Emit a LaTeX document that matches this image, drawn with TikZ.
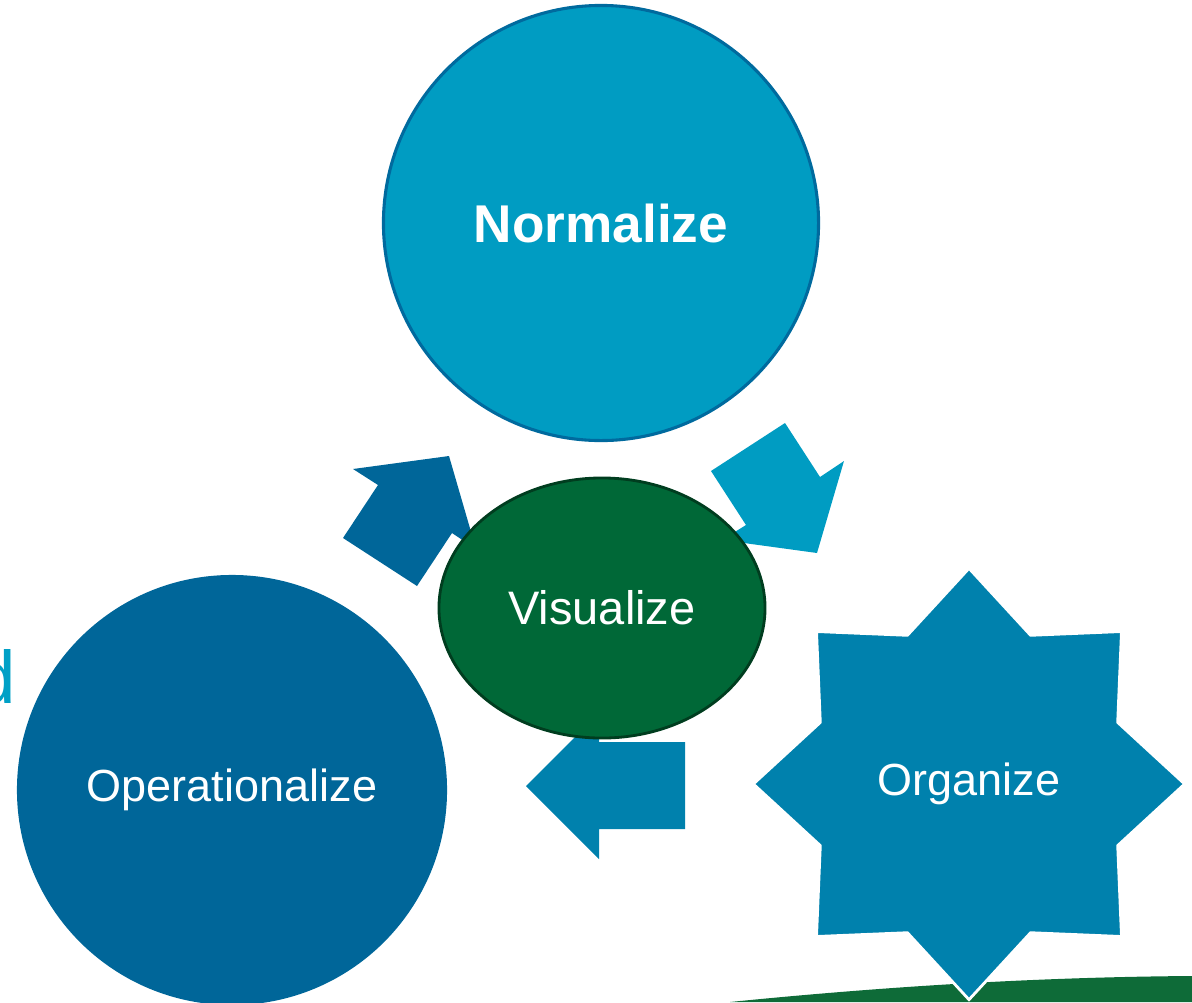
\documentclass[tikz,border=0pt]{standalone}
\usepackage{fontspec}
\setmainfont{Liberation Sans}
\usetikzlibrary{shapes.geometric}

\definecolor{normblue}{HTML}{009CC2}
\definecolor{normedge}{HTML}{006A9E}
\definecolor{opblue}{HTML}{006699}
\definecolor{orgblue}{HTML}{0081AD}
\definecolor{visgreen}{HTML}{006837}
\definecolor{visedge}{HTML}{003D1F}
\definecolor{groundgreen}{HTML}{0E6B38}
\definecolor{sidecyan}{HTML}{00A0C6}

\begin{document}
\begin{tikzpicture}[x=0.025cm, y=-0.025cm,
  bubble/.style={inner sep=0pt, text=white, font=\fontsize{32}{38}\selectfont}]
  \useasboundingbox (0,0) rectangle (1192,1002);

  % Ground
  \fill[groundgreen] (730,1002) .. controls (900,985) and (1050,977) .. (1192,976) -- (1192,1002) -- cycle;

  % Cut-off word at the left edge
  \node[anchor=base east, inner sep=0pt, text=sidecyan, font=\fontsize{53}{60}\selectfont] (cutword) at (16,703) {d};

  % Organize star
  \node[bubble, star, star points=8, star point ratio=1.34, minimum size=10.78cm,
        fill=orgblue, draw=white, line width=2pt] (organize) at (969,784) {Organize};

  % Operationalize and Normalize
  \node[bubble, circle, minimum size=10.75cm, fill=opblue] (operationalize) at (232,790) {Operationalize};
  \node[bubble, circle, minimum size=10.875cm, fill=normblue, draw=normedge, line width=2.2pt,
        font=\bfseries\fontsize{37.8}{45}\selectfont] (normalize) at (601,223) {Normalize};

  % Cycle arrows
  \fill[opblue] (449,456) -- (476,549) -- (452,533) -- (417,586) -- (343,538) -- (378,485) -- (353,469) -- cycle;
  \fill[normblue] (817,553) -- (844,461) -- (820,477) -- (785,423) -- (711,471) -- (746,525) -- (722,540) -- cycle;
  \fill[orgblue] (526,786) -- (599,713) -- (599,742) -- (685,742) -- (685,829) -- (599,829) -- (599,859) -- cycle;

  % Visualize in the middle
  \node[bubble, ellipse, minimum width=8.15cm, minimum height=6.5cm, fill=visgreen, draw=visedge,
        line width=2pt, font=\fontsize{33.4}{40}\selectfont] (visualize) at (602,608) {Visualize};
\end{tikzpicture}
\end{document}
